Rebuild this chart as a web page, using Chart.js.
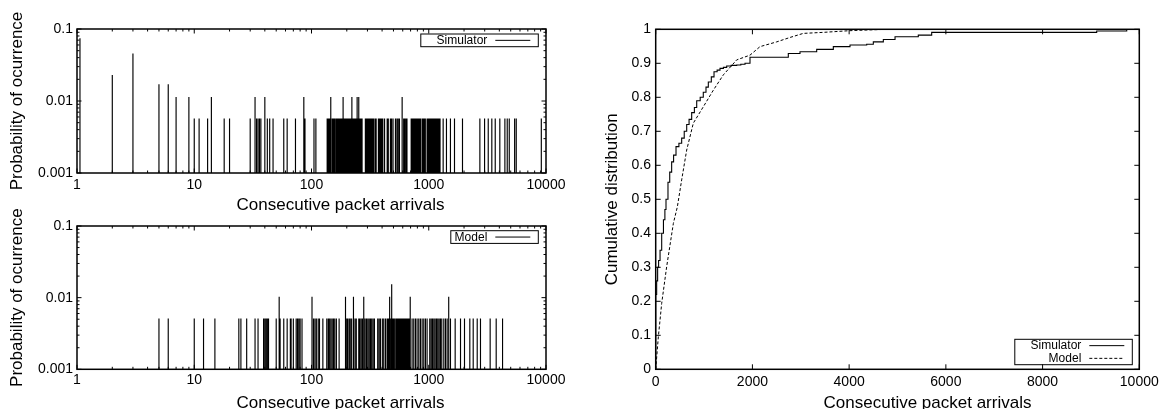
<!DOCTYPE html>
<html>
<head>
<meta charset="utf-8">
<title>Consecutive packet arrivals</title>
<script src="https://cdn.jsdelivr.net/npm/chart.js@4.4.1/dist/chart.umd.min.js"></script>
<style>
    html, body { margin: 0; padding: 0; background: #fff; }
    #wrap { position: relative; width: 1169px; height: 409px; overflow: hidden; }
    #wrap canvas { position: absolute; left: 0; top: 0; }
</style>
</head>
<body>
<div id="wrap">
    <canvas id="sim-chart" width="1169" height="409"></canvas>
    <canvas id="model-chart" width="1169" height="409"></canvas>
    <canvas id="cdf-chart" width="1169" height="409"></canvas>
</div>
<script>
// simulator histogram: arrival counts seen once, and the taller bars
const simOnceP = 0.0057;
const simOnceX = [10, 11, 13, 18, 20, 30, 34, 35, 36, 37, 42, 44, 47, 58, 62, 73, 88, 105, 109,
    136, 139, 142, 144, 150, 153, 156, 159, 163, 166, 169, 172, 176, 179, 183, 190, 194, 198, 202,
    206, 210, 214, 218, 225, 229, 233, 238, 242, 249, 257, 262, 266, 270,
    288, 294, 300, 306, 312, 318, 325, 332, 339, 349, 356, 372, 380, 388, 397, 406, 420, 442, 452,
    471, 482, 496, 520, 535, 548, 562, 611, 625, 640, 652, 708, 722, 736, 752, 768, 785, 800, 818,
    836, 850, 877, 895, 915, 935, 968, 985, 1004, 1024, 1045, 1066, 1087, 1108, 1130, 1153, 1176,
    1200, 1224, 1248,
    1327, 1416, 1531, 1658, 1940, 2729, 2993, 3216, 3451, 3690, 4038, 4460, 4670, 4860, 5400, 5575, 9120];
const simPeakX = [1.06, 2, 3, 5, 6, 7, 9, 14, 33, 40, 86, 146, 186, 221, 245, 253, 593];
const simPeakP = [0.0743, 0.0229, 0.0457, 0.0171, 0.0171, 0.0114, 0.0114, 0.0114, 0.0114, 0.0114,
    0.0114, 0.0114, 0.0114, 0.0114, 0.0114, 0.0114, 0.0114];

// model histogram
const modelOnceP = 0.0051;
const modelOnceX = [5, 6, 10, 12, 15, 24, 25, 28, 33, 35, 39, 40, 41, 42, 43, 50, 54, 58, 62, 66, 67,
    70, 74, 76, 78, 80, 83, 104, 107, 110, 114, 117, 125, 135, 139, 142, 146, 150, 154, 158, 163, 172,
    198, 203, 209, 214, 220, 235, 241, 253, 258, 265, 272, 286, 294, 302, 310, 318, 326, 335, 344,
    367, 377, 387, 402, 413, 427, 441, 447, 456, 466, 477, 487, 496, 505, 509, 523, 530, 537, 544,
    551, 558, 566, 574, 581, 588, 596, 604, 612, 620, 628, 636, 645, 653, 662, 671, 680, 721, 745,
    770, 795, 822, 849, 878, 907, 937, 968, 1020, 1048, 1075, 1104, 1133, 1164, 1194, 1226, 1259,
    1292, 1344, 1389, 1435, 1532,
    1680, 1866, 2018, 2240, 2394, 2590, 2762, 3340, 3760, 4260];
const modelPeakX = [53, 101, 195, 228, 279, 464, 483, 695, 1480];
const modelPeakP = [0.0103, 0.0103, 0.0103, 0.0103, 0.0103, 0.0103, 0.0154, 0.0103, 0.0103];

// cumulative distributions
const simCdfX = [0, 0, 20, 40, 60, 90, 124, 160, 190, 213, 254, 290, 330, 370, 420, 480, 537, 590,
    641, 690, 744, 800, 848, 920, 984, 1040, 1088, 1150, 1206, 1270, 1330, 1400, 1468, 1560, 1675,
    1760, 1847, 1950, 2742, 2984, 3329, 3673, 4018, 4363, 4500, 4707, 4949, 5430, 5707, 9119, 9740];
const simCdfY = [0, 0.22, 0.26, 0.30, 0.32, 0.35, 0.40, 0.44, 0.47, 0.50, 0.55, 0.58, 0.61, 0.63,
    0.655, 0.665, 0.68, 0.70, 0.72, 0.735, 0.755, 0.77, 0.79, 0.80, 0.815, 0.83, 0.845, 0.86, 0.875,
    0.88, 0.885, 0.888, 0.892, 0.894, 0.895, 0.897, 0.90, 0.918, 0.929, 0.934, 0.941, 0.949, 0.954,
    0.956, 0.963, 0.97, 0.978, 0.983, 0.991, 0.995, 1.0];
const modelCdfX = [0, 55, 124, 227, 365, 448, 537, 641, 778, 984, 1192, 1399, 1675, 1950, 2157,
    2502, 2777, 3052, 3466, 4018, 4777, 5100];
const modelCdfY = [0, 0.096, 0.194, 0.302, 0.429, 0.478, 0.557, 0.645, 0.724, 0.772, 0.821, 0.866,
    0.91, 0.924, 0.949, 0.963, 0.976, 0.988, 0.991, 0.996, 1.0, 1.0];

const xLabel = 'Consecutive packet arrivals';
const FONT = '"Liberation Sans", Arial, Helvetica, sans-serif';

Chart.defaults.font.family = FONT;
Chart.defaults.color = '#000';

function isDecade(v) {
    let e = Math.log10(v);
    return Math.abs(e - Math.round(e)) < 1e-6;
}

function decadeLabel(value) {
    return isDecade(value) ? String(Math.round(value * 1000) / 1000) : '';
}

// plain 1..9 marks in every decade between the axis limits
function decadeTicks(scale) {
    let ticks = [];
    let lo = Math.round(Math.log10(scale.min));
    let hi = Math.round(Math.log10(scale.max));
    for (let e = lo; e < hi; e++) {
        for (let k = 1; k < 10; k++) {
            ticks.push({ value: Number((k * Math.pow(10, e)).toPrecision(6)) });
        }
    }
    ticks.push({ value: scale.max });
    scale.ticks = ticks;
}

// impulses: one vertical segment per bar, broken apart with null points
function spikePoints(onceX, onceP, peakX, peakP, floor) {
    let bars = onceX.map(function (x) {
        return [x, onceP];
    });
    peakX.forEach(function (x, i) {
        bars.push([x, peakP[i]]);
    });
    bars.sort(function (a, b) {
        return a[0] - b[0];
    });
    let points = [];
    bars.forEach(function (b) {
        points.push({ x: b[0], y: floor }, { x: b[0], y: b[1] }, { x: b[0], y: null });
    });
    return points;
}

function pairs(xs, ys) {
    return xs.map(function (x, i) {
        return { x: x, y: ys[i] };
    });
}

// box border, inward tick marks on every side and the x axis title
const gnuplotFrame = {
    id: 'gnuplotFrame',
    afterDatasetsDraw: function (chart, args, opts) {
        let ctx = chart.ctx;
        let area = chart.chartArea;
        let xs = chart.scales.x;
        let ys = chart.scales.y;
        ctx.save();
        ctx.strokeStyle = '#000';
        ctx.lineWidth = 1;
        ctx.beginPath();
        xs.ticks.forEach(function (t) {
            let px = xs.getPixelForValue(t.value);
            let len = xs.type === 'logarithmic' && !isDecade(t.value) ? opts.minor : opts.major;
            ctx.moveTo(px, area.bottom);
            ctx.lineTo(px, area.bottom - len);
            ctx.moveTo(px, area.top);
            ctx.lineTo(px, area.top + len);
        });
        ys.ticks.forEach(function (t) {
            let py = ys.getPixelForValue(t.value);
            let len = ys.type === 'logarithmic' && !isDecade(t.value) ? opts.minor : opts.major;
            ctx.moveTo(area.left, py);
            ctx.lineTo(area.left + len, py);
            ctx.moveTo(area.right, py);
            ctx.lineTo(area.right - len, py);
        });
        ctx.stroke();
        ctx.lineWidth = 1.5;
        ctx.strokeRect(area.left, area.top, area.right - area.left, area.bottom - area.top);

        ctx.fillStyle = '#000';
        ctx.font = '17px ' + FONT;
        ctx.textAlign = 'center';
        ctx.textBaseline = 'alphabetic';
        ctx.fillText(opts.title, (area.left + area.right) / 2 + opts.titleShift, area.bottom + opts.titleDrop);
        ctx.restore();
    }
};

// boxed key: label right-aligned, then a sample of the line
const keyBox = {
    id: 'keyBox',
    afterDraw: function (chart, args, opts) {
        let ctx = chart.ctx;
        let area = chart.chartArea;
        let sets = chart.data.datasets;
        let rowH = 12.7;
        let chars = Math.max.apply(null, sets.map(function (d) { return d.label.length; }));
        let w = 7.5 * chars + 50;
        let h = rowH * sets.length;
        let right = area.right - opts.dx;
        let top = opts.anchor === 'bottom' ? area.bottom - opts.dy - h : area.top + opts.dy;
        ctx.save();
        ctx.strokeStyle = '#000';
        ctx.fillStyle = '#000';
        ctx.lineWidth = 1;
        ctx.strokeRect(right - w, top, w, h);
        ctx.font = '12px ' + FONT;
        ctx.textAlign = 'right';
        ctx.textBaseline = 'middle';
        sets.forEach(function (d, i) {
            let cy = top + rowH * (i + 0.5);
            ctx.fillText(d.label, right - 51, cy + 0.5);
            ctx.setLineDash(d.borderDash || []);
            ctx.lineWidth = 1;
            ctx.beginPath();
            ctx.moveTo(right - 43, cy);
            ctx.lineTo(right - 8, cy);
            ctx.stroke();
            ctx.setLineDash([]);
        });
        ctx.restore();
    }
};

function histogramChart(canvasId, label, points, area, key) {
    let ctx = document.getElementById(canvasId).getContext('2d');
    return new Chart(ctx, {
        type: 'line',
        data: {
            datasets: [
                {
                    label: label,
                    data: points,
                    borderColor: '#000',
                    borderWidth: 1.15,
                    pointRadius: 0,
                    spanGaps: false,
                    fill: false,
                },
            ],
        },
        options: {
            responsive: false,
            animation: false,
            events: [],
            layout: {
                padding: { left: 0, top: area.top, right: 1169 - area.right, bottom: 0 },
            },
            scales: {
                x: {
                    type: 'logarithmic',
                    min: 1,
                    max: 10000,
                    grid: { display: false, drawTicks: false },
                    border: { display: false },
                    afterBuildTicks: decadeTicks,
                    ticks: {
                        autoSkip: false,
                        maxRotation: 0,
                        minRotation: 0,
                        padding: area.tickPad,
                        font: { size: 14 },
                        callback: decadeLabel,
                    },
                    afterFit: function (scale) {
                        scale.height = 409 - area.bottom;
                    },
                },
                y: {
                    type: 'logarithmic',
                    min: 0.001,
                    max: 0.1,
                    grid: { display: false, drawTicks: false },
                    border: { display: false },
                    afterBuildTicks: decadeTicks,
                    ticks: {
                        autoSkip: false,
                        padding: 4,
                        font: { size: 14 },
                        callback: decadeLabel,
                    },
                    title: {
                        display: true,
                        text: 'Probability of ocurrence',
                        font: { size: 17 },
                        padding: { top: 7, bottom: 0 },
                    },
                    afterFit: function (scale) {
                        scale.width = area.left;
                    },
                },
            },
            plugins: {
                legend: { display: false },
                tooltip: { enabled: false },
                gnuplotFrame: { major: 4.5, minor: 2.5, title: xLabel, titleShift: 29, titleDrop: area.titleDrop },
                keyBox: key,
            },
        },
        plugins: [gnuplotFrame, keyBox],
    });
}

document.addEventListener('DOMContentLoaded', function () {
    histogramChart('sim-chart', 'Simulator',
        spikePoints(simOnceX, simOnceP, simPeakX, simPeakP, 0.001),
        { left: 77, top: 29, right: 546, bottom: 173, tickPad: 4, titleDrop: 36.5 },
        { anchor: 'top', dx: 7.7, dy: 5 });

    histogramChart('model-chart', 'Model',
        spikePoints(modelOnceX, modelOnceP, modelPeakX, modelPeakP, 0.001),
        { left: 77, top: 226, right: 546, bottom: 369.3, tickPad: 2.5, titleDrop: 38.2 },
        { anchor: 'top', dx: 7.7, dy: 4.7 });

    let cdf_chart = document.getElementById('cdf-chart').getContext('2d');
    let cdfChart = new Chart(cdf_chart, {
        type: 'line',
        data: {
            datasets: [
                {
                    label: 'Simulator',
                    data: pairs(simCdfX, simCdfY),
                    borderColor: '#000',
                    borderWidth: 1.1,
                    pointRadius: 0,
                    stepped: true,
                    fill: false,
                },
                {
                    label: 'Model',
                    data: pairs(modelCdfX, modelCdfY),
                    borderColor: '#000',
                    borderWidth: 1,
                    borderDash: [3, 2],
                    pointRadius: 0,
                    tension: 0,
                    fill: false,
                },
            ],
        },
        options: {
            responsive: false,
            animation: false,
            events: [],
            layout: {
                padding: { left: 595, top: 29.3, right: 29.7, bottom: 0 },
            },
            scales: {
                x: {
                    type: 'linear',
                    min: 0,
                    max: 10000,
                    grid: { display: false, drawTicks: false },
                    border: { display: false },
                    ticks: {
                        stepSize: 2000,
                        maxRotation: 0,
                        padding: 4.3,
                        font: { size: 14 },
                        callback: function (v) {
                            return String(v);
                        },
                    },
                    afterFit: function (scale) {
                        scale.height = 409 - 369.3;
                    },
                },
                y: {
                    type: 'linear',
                    min: 0,
                    max: 1,
                    grid: { display: false, drawTicks: false },
                    border: { display: false },
                    ticks: {
                        stepSize: 0.1,
                        padding: 4.7,
                        font: { size: 14 },
                        callback: function (v) {
                            return String(Math.round(v * 10) / 10);
                        },
                    },
                    title: {
                        display: true,
                        text: 'Cumulative distribution',
                        font: { size: 17 },
                        padding: { top: 7.3, bottom: 0 },
                    },
                    afterFit: function (scale) {
                        scale.width = 655.7 - 595;
                    },
                },
            },
            plugins: {
                legend: { display: false },
                tooltip: { enabled: false },
                gnuplotFrame: { major: 5, minor: 5, title: xLabel, titleShift: 30, titleDrop: 38.2 },
                keyBox: { anchor: 'bottom', dx: 7, dy: 4.6 },
            },
        },
        plugins: [gnuplotFrame, keyBox],
    });
});
</script>
</body>
</html>
